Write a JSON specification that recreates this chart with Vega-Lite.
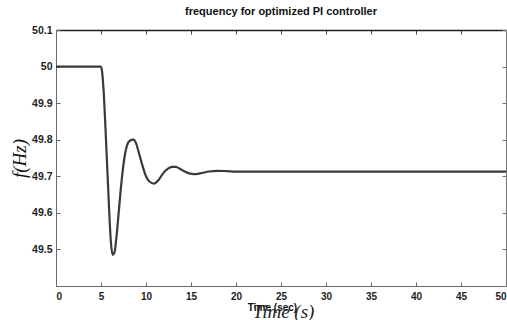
{
  "$schema": "https://vega.github.io/schema/vega-lite/v6.json",
  "width": 450,
  "height": 256,
  "autosize": {"type": "none"},
  "padding": {"left": 56, "top": 30, "right": 1, "bottom": 34},
  "background": "white",
  "config": {"view": {"stroke": null}},
  "title": {
    "text": "frequency for optimized PI controller",
    "font": "Liberation Sans",
    "fontSize": 11,
    "fontWeight": "bold",
    "color": "#111",
    "offset": 8,
    "anchor": "middle"
  },
  "data": {
    "values": [
      {"t": 0, "f": 50.0},
      {"t": 5.0, "f": 50.0},
      {"t": 5.1, "f": 49.99},
      {"t": 5.3, "f": 49.93},
      {"t": 5.5, "f": 49.83},
      {"t": 5.7, "f": 49.72},
      {"t": 5.9, "f": 49.61},
      {"t": 6.1, "f": 49.52},
      {"t": 6.3, "f": 49.485},
      {"t": 6.5, "f": 49.492},
      {"t": 6.7, "f": 49.53},
      {"t": 7.0, "f": 49.61},
      {"t": 7.3, "f": 49.69},
      {"t": 7.6, "f": 49.75},
      {"t": 7.9, "f": 49.785},
      {"t": 8.2, "f": 49.797},
      {"t": 8.6, "f": 49.8},
      {"t": 8.9, "f": 49.79},
      {"t": 9.2, "f": 49.765},
      {"t": 9.6, "f": 49.73},
      {"t": 10.0, "f": 49.70},
      {"t": 10.4, "f": 49.685},
      {"t": 10.9, "f": 49.68},
      {"t": 11.4, "f": 49.69},
      {"t": 11.9, "f": 49.708},
      {"t": 12.4, "f": 49.72},
      {"t": 12.9, "f": 49.726},
      {"t": 13.3, "f": 49.726},
      {"t": 13.8, "f": 49.72},
      {"t": 14.3, "f": 49.713},
      {"t": 14.8, "f": 49.708},
      {"t": 15.3, "f": 49.706},
      {"t": 16.0, "f": 49.708},
      {"t": 17.0, "f": 49.713},
      {"t": 18.0, "f": 49.715},
      {"t": 19.0, "f": 49.714},
      {"t": 20.0, "f": 49.713},
      {"t": 50.0, "f": 49.713}
    ]
  },
  "layer": [
    {
      "mark": {"type": "line", "color": "#3a3a3a", "strokeWidth": 2.2, "interpolate": "monotone", "clip": true},
      "encoding": {
        "x": {
          "field": "t", "type": "quantitative",
          "scale": {"domain": [0, 50], "nice": false, "zero": false},
          "axis": {
            "orient": "bottom",
            "values": [0, 5, 10, 15, 20, 25, 30, 35, 40, 45, 50],
            "grid": false,
            "domainColor": "#666",
            "tickColor": "#666",
            "tickSize": -4,
            "labelPadding": 9,
            "labelFont": "Liberation Sans",
            "labelFontWeight": "bold",
            "labelFontSize": 10,
            "labelColor": "#222",
            "title": "Time (sec)",
            "titleFont": "Liberation Sans",
            "titleFontWeight": "bold",
            "titleFontSize": 10,
            "titleColor": "#111",
            "titleX": 216,
            "titlePadding": 1
          }
        },
        "y": {
          "field": "f", "type": "quantitative",
          "scale": {"domain": [49.4, 50.1], "nice": false, "zero": false},
          "axis": {
            "orient": "left",
            "values": [49.4, 49.5, 49.6, 49.7, 49.8, 49.9, 50.0, 50.1],
            "format": "~g",
            "labelExpr": "datum.value < 49.45 ? '' : datum.label",
            "grid": false,
            "domainColor": "#666",
            "tickColor": "#666",
            "tickSize": -4,
            "labelPadding": 8,
            "labelFont": "Liberation Sans",
            "labelFontWeight": "bold",
            "labelFontSize": 10.5,
            "labelColor": "#222",
            "title": "f(Hz)",
            "titleFont": "Liberation Serif",
            "titleFontStyle": "italic",
            "titleFontWeight": "normal",
            "titleFontSize": 19,
            "titleColor": "#111",
            "titlePadding": 2
          }
        }
      }
    },
    {
      "mark": {"type": "line", "opacity": 0},
      "encoding": {
        "x": {
          "field": "t", "type": "quantitative",
          "scale": {"domain": [0, 50], "nice": false, "zero": false},
          "axis": {
            "orient": "top",
            "values": [0, 5, 10, 15, 20, 25, 30, 35, 40, 45, 50],
            "labels": false,
            "grid": false,
            "title": null,
            "domainColor": "#222",
            "domainWidth": 1.6,
            "tickColor": "#444",
            "tickSize": -4
          }
        },
        "y": {
          "field": "f", "type": "quantitative",
          "scale": {"domain": [49.4, 50.1], "nice": false, "zero": false},
          "axis": {
            "orient": "right",
            "values": [49.4, 49.5, 49.6, 49.7, 49.8, 49.9, 50.0, 50.1],
            "labels": false,
            "grid": false,
            "title": null,
            "domainColor": "#777",
            "tickColor": "#777",
            "tickSize": -4
          }
        }
      }
    },
    {
      "mark": {"type": "line", "opacity": 0},
      "encoding": {
        "x": {
          "field": "t", "type": "quantitative",
          "scale": {"domain": [0, 50], "nice": false, "zero": false},
          "axis": {
            "orient": "bottom",
            "labels": false,
            "ticks": false,
            "domain": false,
            "grid": false,
            "title": "Time (s)",
            "titleFont": "Liberation Serif",
            "titleFontStyle": "italic",
            "titleFontWeight": "normal",
            "titleFontSize": 19,
            "titleColor": "#222",
            "titleX": 227,
            "titlePadding": 16
          }
        }
      }
    }
  ],
  "resolve": {"scale": {"x": "independent", "y": "independent"}}
}
